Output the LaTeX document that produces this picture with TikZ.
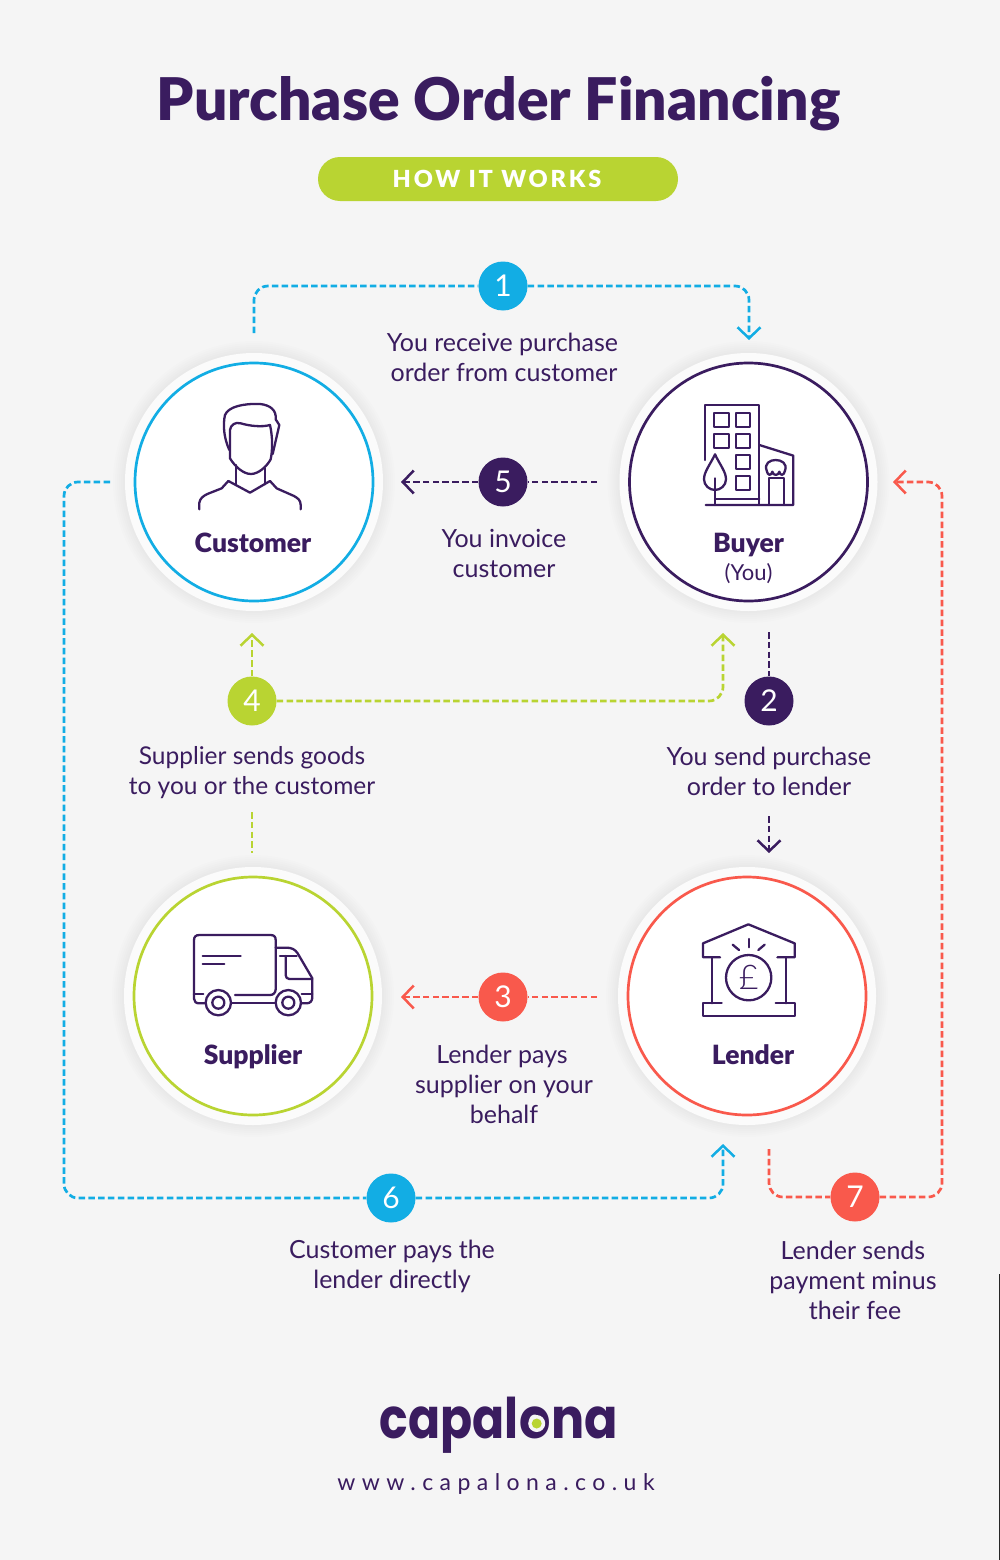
\documentclass[tikz,border=0pt]{standalone}
\usepackage{fontspec}
\setmainfont{Lato}
\newfontfamily\heavyfont{Lato Black}
\newfontfamily\lightfont{Lato Light}
\newfontfamily\spacedfont[LetterSpace=12]{Lato Black}
\newfontfamily\urlfont[LetterSpace=28]{Lato}
\newfontfamily\logofont{Poppins Bold}
\usepackage{tikz}
\usetikzlibrary{arrows.meta}
\definecolor{pagegrey}{HTML}{F5F5F5}
\definecolor{darkpurple}{HTML}{3A1C5F}
\definecolor{skyblue}{HTML}{12ADE4}
\definecolor{limegreen}{HTML}{B9D432}
\definecolor{coralred}{HTML}{F9594C}
\tikzset{
	hub/.style={circle,draw=#1,fill=white,line width=2.7pt,minimum size=238pt,inner sep=0pt},
	badge/.style={circle,fill=#1,minimum size=49pt,inner sep=0pt,text=white,font=\fontsize{30}{30}\selectfont},
	link/.style={draw=#1,line width=2.7pt,dash pattern=on 6.5pt off 3.3pt,rounded corners=14pt,
		>={Straight Barb[length=11pt,width=23pt,line width=2.5pt]}},
	caption/.style={align=center,text=darkpurple,font=\fontsize{25}{30}\selectfont},
	hubname/.style={anchor=base,text=darkpurple,font=\fontsize{26.5}{30}\heavyfont},
	icon/.style={draw=darkpurple,line width=2.3pt,line join=round,line cap=round},
	logopart/.style={text=darkpurple,inner sep=0pt,font=\fontsize{56}{60}\logofont},
}
\begin{document}
\begin{tikzpicture}[x=1pt,y=-1pt]
		\useasboundingbox (0,0) rectangle (1000,1560);
		\fill[pagegrey] (0,0) rectangle (1000,1560);
		\fill[black!85] (998.6,1274) rectangle (1000,1560);
		%
		\node[text=darkpurple,font=\fontsize{58.8}{66}\heavyfont] (title) at (498.5,104) {Purchase Order Financing};
		\node[fill=limegreen,rounded corners=22pt,minimum width=360pt,minimum height=44pt,inner sep=0pt] (pill) at (498,179) {};
		\node[text=white,font=\fontsize{23.5}{30}\spacedfont] (pilltext) at (497,178.5) {HOW IT WORKS};
		%
		\foreach \cx/\cy in {254/482,748.5/482,253/996,747/996}{
			\foreach \r in {141,139,...,130}{
				\fill[black,opacity=0.007] (\cx,\cy) circle (\r pt);
			}
			\fill[white!60!pagegrey] (\cx,\cy) circle (129pt);
		}
		\node[hub=skyblue] (customer) at (254,482) {};
		\node[hub=darkpurple] (buyer) at (748.5,482) {};
		\node[hub=limegreen] (supplier) at (253,996) {};
		\node[hub=coralred] (lender) at (747,996) {};
		%
		\node[badge=skyblue] (n1) at (503,286) {1};
		\node[badge=darkpurple] (n2) at (769,701) {2};
		\node[badge=coralred] (n3) at (503,997) {3};
		\node[badge=limegreen] (n4) at (252,701) {4};
		\node[badge=darkpurple] (n5) at (503,482) {5};
		\node[badge=skyblue] (n6) at (391,1198) {6};
		\node[badge=coralred] (n7) at (855,1197) {7};
		%
		\coordinate (a1) at (254,333);
		\coordinate (b1) at (749,340);
		\coordinate (a2) at (769,632);
		\coordinate (c2) at (769,816);
		\coordinate (b2) at (769,853);
		\coordinate (a3) at (597,997);
		\coordinate (b3) at (401,997);
		\coordinate (a4) at (252,812);
		\coordinate (c4) at (252,853);
		\coordinate (b4) at (252,633);
		\coordinate (d4) at (723,633);
		\coordinate (a5) at (597,482);
		\coordinate (b5) at (401,482);
		\coordinate (a6) at (110,482);
		\coordinate (k6) at (64,1198);
		\coordinate (b6) at (723,1144);
		\coordinate (a7) at (769,1149);
		\coordinate (k7) at (942,482);
		\coordinate (b7) at (893,482);
		%
		\draw[link=skyblue] (a1) |- (n1);
		\draw[link=skyblue,->] (n1) -| (b1);
		\draw[link=darkpurple] (a2) -- (n2);
		\draw[link=darkpurple,->] (c2) -- (b2);
		\draw[link=coralred] (a3) -- (n3);
		\draw[link=coralred,->] (n3) -- (b3);
		\draw[link=limegreen] (a4) -- (c4);
		\draw[link=limegreen,->] (n4) -- (b4);
		\draw[link=limegreen,->] (n4) -| (d4);
		\draw[link=darkpurple] (a5) -- (n5);
		\draw[link=darkpurple,->] (n5) -- (b5);
		\draw[link=skyblue] (a6) -- (a6 -| k6) -- (k6) -- (n6);
		\draw[link=skyblue,->] (n6) -| (b6);
		\draw[link=coralred] (a7) |- (n7);
		\draw[link=coralred,->] (n7) -| (k7) -- (b7);
		%
		\node[caption] (t1) at (502.5,357) {You receive purchase\\\hspace*{3pt}order from customer};
		\node[caption] (t2) at (769,771) {You send purchase\\order to lender};
		\node[caption] (t3) at (504,1084) {Lender pays\hspace*{4pt}\\supplier on your\\behalf};
		\node[caption,font=\fontsize{24.5}{30}\selectfont] (t4) at (252,773) {Supplier sends goods\\to you or the customer};
		\node[caption] (t5) at (504,553) {You invoice\\customer};
		\node[caption] (t6) at (392,1266) {Customer pays the\\lender directly};
		\node[caption] (t7) at (853,1280.5) {Lender sends\\payment minus\\\hspace*{4pt}their fee};
		%
		\node[hubname] (customername) at (253,552) {Customer};
		\node[hubname] (buyername) at (748.5,552) {Buyer};
		\node[text=darkpurple,font=\fontsize{22}{24}\selectfont] (buyeryou) at (748.5,573.5) {(You)};
		\node[hubname] (suppliername) at (253,1064.5) {Supplier};
		\node[hubname] (lendername) at (753,1064.5) {Lender};
		%
		\begin{scope}[shift={(120,350)},scale=1/3,icon]
			\draw (328,300) .. controls (312,265) and (308,225) .. (315,195) .. controls (325,170) and (370,160) .. (420,162) .. controls (450,165) and (470,180) .. (467,208) -- (478,225) -- (458,312);
			\draw (330,240) .. controls (332,225) and (345,215) .. (362,220) .. controls (390,228) and (425,232) .. (450,225) .. controls (458,260) and (458,300) .. (452,328) .. controls (440,350) and (415,372) .. (393,372) .. controls (370,372) and (345,350) .. (330,325) -- cycle;
			\draw (347,345) -- (347,403);
			\draw (435,355) -- (435,403);
			\draw (238,478) -- (238,458) .. controls (240,445) and (250,438) .. (262,432) -- (305,415) -- (325,393) -- (390,428) -- (450,393) -- (470,415) -- (522,438) .. controls (535,445) and (542,452) .. (542,465) -- (542,478);
		\end{scope}
		%
		\begin{scope}[shift={(610,350)},scale=1/3,icon]
			\draw (285,330) -- (285,165) -- (448,165) -- (448,465);
			\foreach \wx/\wy in {313/190,378/190,313/253,378/253,378/315,378/377}{
				\draw (\wx,\wy) rectangle (\wx+43,\wy+42);
			}
			\draw (287,465) -- (550,465) -- (550,317) -- (448,285);
			\draw (315,447) -- (448,447);
			\draw (476,465) -- (476,385) -- (522,385) -- (522,465);
			\draw (315,313) .. controls (300,345) and (282,365) .. (282,388) .. controls (282,406) and (298,420) .. (315,420) .. controls (332,420) and (348,406) .. (348,388) .. controls (348,365) and (330,345) .. (315,313) -- cycle;
			\draw (315,385) -- (315,465);
			\draw (470,362) .. controls (462,340) and (480,330) .. (497,330) .. controls (514,330) and (533,340) .. (525,362) .. controls (522,378) and (510,378) .. (508,365) .. controls (505,378) and (490,378) .. (487,365) .. controls (484,378) and (473,378) .. (470,362) -- cycle;
		\end{scope}
		%
		\begin{scope}[shift={(120,860)},scale=1/3,icon]
			\draw (222,403) -- (222,240) .. controls (222,230) and (228,225) .. (238,225) -- (452,225) .. controls (462,225) and (467,230) .. (467,240) -- (467,388) .. controls (467,398) and (460,405) .. (450,405) -- (345,405);
			\draw (222,403) -- (222,416) .. controls (222,425) and (228,430) .. (238,430) -- (257,430);
			\draw (222,403) -- (250,403);
			\draw (334,430) -- (467,430);
			\draw (295,428) circle (38);
			\draw (295,428) circle (18);
			\draw (505,428) circle (38);
			\draw (505,428) circle (18);
			\draw (467,263) -- (500,263) .. controls (515,263) and (525,268) .. (533,280) -- (577,355) -- (577,412) .. controls (577,423) and (570,430) .. (560,430) -- (543,430);
			\draw (545,403) -- (577,403);
			\draw (480,287) -- (530,287);
			\draw (497,288) -- (497,345) .. controls (497,352) and (501,357) .. (508,357) -- (577,357);
			\draw (248,287) -- (362,287);
			\draw (248,313) -- (313,313);
		\end{scope}
		%
		\begin{scope}[shift={(610,860)},scale=1/3,icon]
			\draw (330,292) -- (279,292) -- (279,250) -- (415,193) -- (554,250) -- (554,292) -- (502,292);
			\draw (305,292) -- (305,430);
			\draw (527,292) -- (527,430);
			\draw (335,430) -- (279,430) -- (279,468) -- (554,468) -- (554,430) -- (497,430);
			\draw (416,353) circle (68);
			\draw (416,237) -- (416,262);
			\draw (368,254) -- (387,270);
			\draw (464,254) -- (445,270);
			\node[text=darkpurple,font=\fontsize{34}{36}\lightfont] (pound) at (416,353) {£};
		\end{scope}
		%
		\node[logopart,anchor=base east] (logoleft) at (519,1438.5) {\scalebox{0.845}[1]{capal}};
		\node[logopart,anchor=base west] (logoright) at (519.5,1438.5) {\scalebox{0.88}[1]{ona}};
		\fill[pagegrey] (536.7,1423.5) circle (8.5pt);
		\fill[limegreen] (536.7,1423.5) circle (5pt);
		\node[text=darkpurple,font=\fontsize{23}{28}\urlfont] (url) at (496,1484) {www.capalona.co.uk};
\end{tikzpicture}
\end{document}
